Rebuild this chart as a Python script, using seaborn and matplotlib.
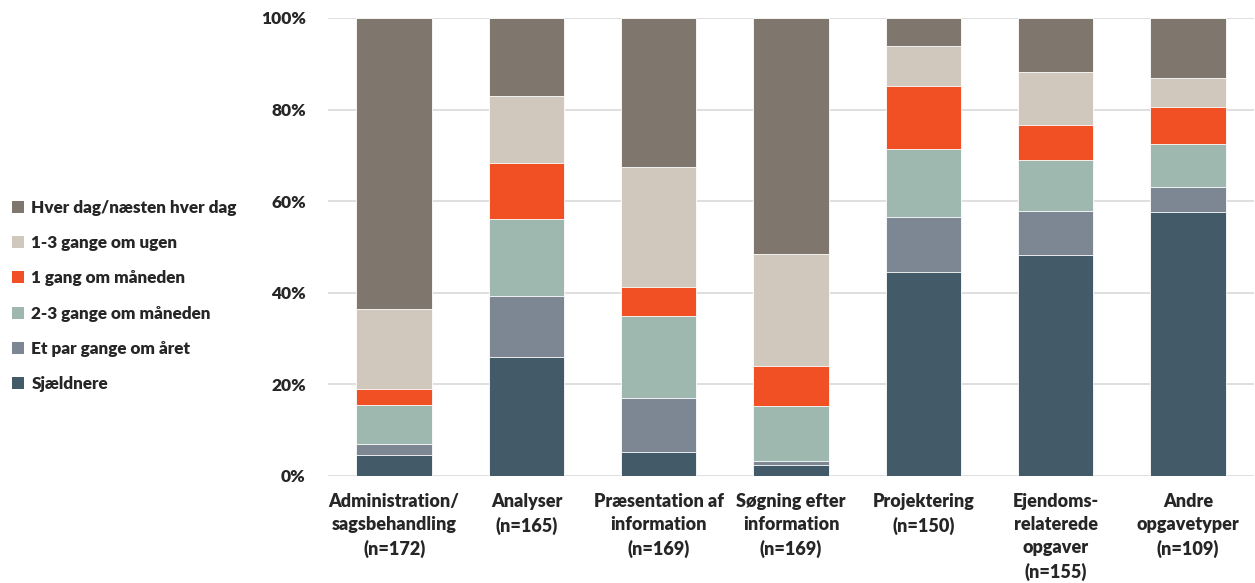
import matplotlib
matplotlib.use("Agg")
import matplotlib.pyplot as plt
import seaborn as sns
import pandas as pd
import numpy as np
from matplotlib.patches import Patch

categories = [
    "Administration/\nsagsbehandling\n(n=172)",
    "Analyser\n(n=165)",
    "Præsentation af\ninformation\n(n=169)",
    "Søgning efter\ninformation\n(n=169)",
    "Projektering\n(n=150)",
    "Ejendoms-\nrelaterede\nopgaver\n(n=155)",
    "Andre\nopgavetyper\n(n=109)",
]
series_names = [
    "Sjældnere",
    "Et par gange om året",
    "2-3 gange om måneden",
    "1 gang om måneden",
    "1-3 gange om ugen",
    "Hver dag/næsten hver dag",
]
sjaeldnere = [4.6, 25.9, 5.2, 2.3, 44.5, 48.2, 57.7]
et_par = [2.3, 13.3, 11.9, 1.0, 12.0, 9.6, 5.4]
to_tre_maaned = [8.7, 17.0, 17.8, 12.0, 14.8, 11.1, 9.3]
en_gang_maaned = [3.5, 12.1, 6.4, 8.8, 13.8, 7.7, 8.1]
en_tre_uge = [17.4, 14.6, 26.1, 24.3, 8.8, 11.7, 6.5]
hver_dag = [63.5, 17.1, 32.6, 51.6, 6.1, 11.7, 13.0]
colors = ["#435A69", "#7D8794", "#9EB8AF", "#F05023", "#D1C8BD", "#7F776D"]

values = [sjaeldnere, et_par, to_tre_maaned, en_gang_maaned, en_tre_uge, hver_dag]

sns.set_style("white")
plt.rcParams["font.family"] = ["Lato", "DejaVu Sans"]
W = "heavy"

fig = plt.figure(figsize=(12.55, 5.83), dpi=100)
ax = fig.add_axes([328 / 1255, 1 - 476 / 583, (1254 - 328) / 1255, (476 - 18) / 583])

arr = np.array(values)
arr = arr / arr.sum(axis=0) * 100
cum = np.cumsum(arr, axis=0)

for i in reversed(range(len(series_names))):
    df = pd.DataFrame({"cat": categories, "val": cum[i]})
    sns.barplot(data=df, x="cat", y="val", color=colors[i], width=0.57,
                edgecolor="white", linewidth=0.6, ax=ax, zorder=3, saturation=1)

ax.set_ylim(0, 100)
ax.set_xlim(-0.5, len(categories) - 0.5)
ax.set_yticks([0, 20, 40, 60, 80, 100])
ax.set_yticklabels([f"{v}%" for v in [0, 20, 40, 60, 80, 100]])
ax.yaxis.grid(True, color="#D9D9D9", linewidth=1.2, zorder=0)
ax.set_axisbelow(True)
for s in ax.spines.values():
    s.set_visible(False)
ax.set_xlabel("")
ax.set_ylabel("")
ax.tick_params(axis="both", length=0)
ax.tick_params(axis="y", pad=16, labelsize=12.5)
ax.tick_params(axis="x", pad=12, labelsize=13)
for lab in ax.get_xticklabels():
    lab.set_fontweight(W)
    lab.set_linespacing(1.45)
for lab in ax.get_yticklabels():
    lab.set_fontweight(W)

handles = [Patch(facecolor=colors[i], edgecolor="none", label=series_names[i])
           for i in reversed(range(len(series_names)))]
fig.legend(handles=handles, loc="center left", bbox_to_anchor=(0.004, 1 - 296 / 583),
           frameon=False, prop={"weight": W, "size": 12.3},
           handlelength=0.7, handleheight=0.7, handletextpad=0.45, labelspacing=1.13,
           borderaxespad=0)

fig.savefig("out.png", dpi=100)
